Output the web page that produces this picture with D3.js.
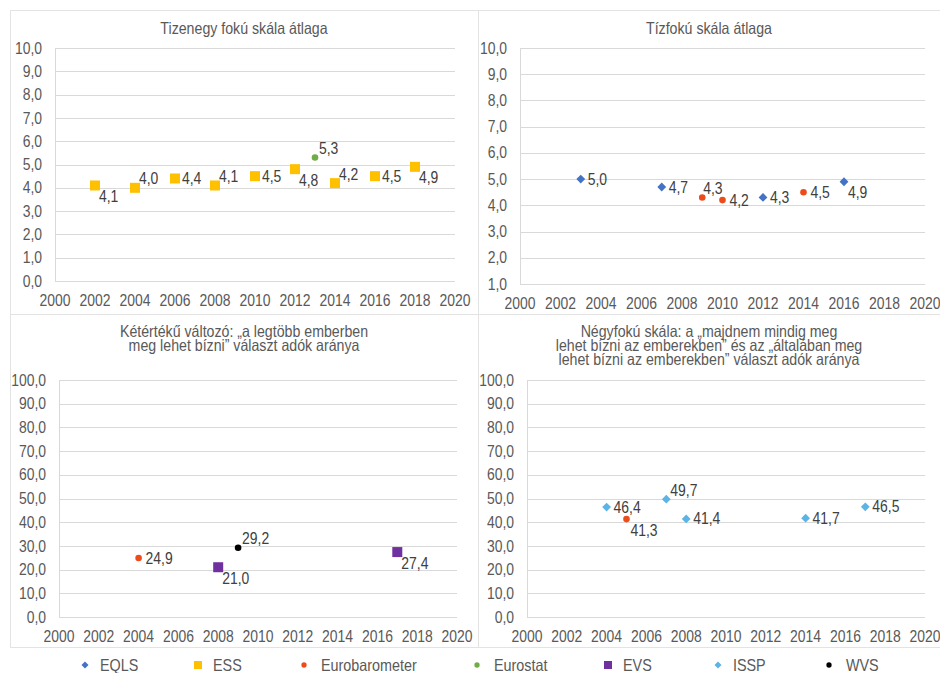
<!DOCTYPE html>
<html>
<head>
<meta charset="utf-8">
<script src="https://cdn.jsdelivr.net/npm/d3@7"></script>
<style>
  body { margin: 0; background: #ffffff; }
  svg text { font-family: 'Liberation Sans', Arial, sans-serif; }
</style>
</head>
<body>
<div id="chart"></div>
<script>
// sources (legend order)
var sources = ["EQLS", "ESS", "Eurobarometer", "Eurostat", "EVS", "ISSP", "WVS"];
var sourceColors = ["#4472C4", "#FFC000", "#EE4B1A", "#70AD47", "#7030A0", "#5BB4E5", "#000000"];
var sourceShapes = ["diamond", "square", "circle", "circle", "square", "diamond", "circle"];

var xTicks = [2000, 2002, 2004, 2006, 2008, 2010, 2012, 2014, 2016, 2018, 2020];

// panel 1 - tizenegy foku skala
var essYears = [2002, 2004, 2006, 2008, 2010, 2012, 2014, 2016, 2018];
var essValues = [4.1, 4.0, 4.4, 4.1, 4.5, 4.8, 4.2, 4.5, 4.9];
var eurostatYears = [2013];
var eurostatValues = [5.3];

// panel 2 - tizfoku skala
var eqlsYears = [2003, 2007, 2012, 2016];
var eqlsValues = [5.0, 4.7, 4.3, 4.9];
var eurobar10Years = [2009, 2010, 2014];
var eurobar10Values = [4.3, 4.2, 4.5];

// panel 3 - ketérteku valtozo
var eurobar2Years = [2004];
var eurobar2Values = [24.9];
var evsYears = [2008, 2017];
var evsValues = [21.0, 27.4];
var wvsYears = [2009];
var wvsValues = [29.2];

// panel 4 - negyfoku skala
var isspYears = [2004, 2007, 2008, 2014, 2017];
var isspValues = [46.4, 49.7, 41.4, 41.7, 46.5];
var eurobar4Years = [2005];
var eurobar4Values = [41.3];

// where the data label sits: r = right, ar = above right, br = below right, a = above
var essLabelPos = ["br", "ar", "r", "ar", "r", "br", "ar", "r", "br"];
var eurostatLabelPos = ["ar"];
var eqlsLabelPos = ["r", "r", "r", "br"];
var eurobar10LabelPos = ["a", "r", "r"];
var eurobar2LabelPos = ["r"];
var evsLabelPos = ["br", "br"];
var wvsLabelPos = ["ar"];
var isspLabelPos = ["r", "ar", "r", "r", "r"];
var eurobar4LabelPos = ["br"];

var locale = d3.formatLocale({decimal: ",", thousands: " ", grouping: [3], currency: ["", ""]});
var fmt = locale.format(".1f");

var w = 940, h = 673;
var squeeze = 0.87;   // no narrow font installed, so squeeze the text horizontally

var svg = d3.select("#chart").append("svg")
    .attr("width", w)
    .attr("height", h);

function at(x, y) {
    return "translate(" + x + "," + y + ") scale(" + squeeze + ",1)";
}

function series(name, years, values, pos) {
    var i = sources.indexOf(name);
    return {
        color: sourceColors[i],
        shape: sourceShapes[i],
        points: years.map(function (y, j) { return {year: y, value: values[j], pos: pos[j]}; })
    };
}

var panels = [
    {
        frame: [10, 10, 478, 314],
        plot: {left: 55, right: 455, top: 48, bottom: 281},
        yDomain: [0, 10], yTicks: d3.range(0, 10.01, 1),
        title: ["Tizenegy fokú skála átlaga"], titleY: 28,
        series: [series("ESS", essYears, essValues, essLabelPos),
                 series("Eurostat", eurostatYears, eurostatValues, eurostatLabelPos)]
    },
    {
        frame: [478, 10, 940, 314],
        plot: {left: 520, right: 925, top: 48, bottom: 284},
        yDomain: [1, 10], yTicks: d3.range(1, 10.01, 1),
        title: ["Tízfokú skála átlaga"], titleY: 28,
        series: [series("EQLS", eqlsYears, eqlsValues, eqlsLabelPos),
                 series("Eurobarometer", eurobar10Years, eurobar10Values, eurobar10LabelPos)]
    },
    {
        frame: [10, 314, 478, 647],
        plot: {left: 59, right: 457, top: 380, bottom: 617},
        yDomain: [0, 100], yTicks: d3.range(0, 100.1, 10),
        title: ["Kétértékű változó: „a legtöbb emberben", "meg lehet bízni” választ adók aránya"], titleY: 331,
        series: [series("Eurobarometer", eurobar2Years, eurobar2Values, eurobar2LabelPos),
                 series("EVS", evsYears, evsValues, evsLabelPos),
                 series("WVS", wvsYears, wvsValues, wvsLabelPos)]
    },
    {
        frame: [478, 314, 940, 647],
        plot: {left: 527, right: 925, top: 380, bottom: 617},
        yDomain: [0, 100], yTicks: d3.range(0, 100.1, 10),
        title: ["Négyfokú skála: a „majdnem mindig meg", "lehet bízni az emberekben” és az „általában meg", "lehet bízni az emberekben” választ adók aránya"], titleY: 331,
        series: [series("ISSP", isspYears, isspValues, isspLabelPos),
                 series("Eurobarometer", eurobar4Years, eurobar4Values, eurobar4LabelPos)]
    }
];

function drawMarker(g, shape, color, s) {
    if (shape === "circle") {
        g.append("circle").attr("r", s * 0.33).attr("fill", color);
    } else if (shape === "square") {
        g.append("rect").attr("x", -s / 2).attr("y", -s / 2).attr("width", s).attr("height", s).attr("fill", color);
    } else {
        var r = s * 0.44;
        g.append("path").attr("d", "M0," + (-r) + "L" + r + ",0L0," + r + "L" + (-r) + ",0Z").attr("fill", color);
    }
}

panels.forEach(function (p) {
    var f = p.frame;
    var cx = (f[0] + f[2]) / 2;
    svg.append("rect")
        .attr("x", f[0] + 0.5).attr("y", f[1] + 0.5)
        .attr("width", f[2] - f[0]).attr("height", f[3] - f[1])
        .attr("fill", "#ffffff")
        .attr("stroke", "#e3e3e3");

    var x = d3.scaleLinear().domain([2000, 2020]).range([p.plot.left, p.plot.right]);
    var y = d3.scaleLinear().domain(p.yDomain).range([p.plot.bottom, p.plot.top]);

    // title, one line per row
    svg.append("g")
        .selectAll("g")
        .data(p.title)
        .enter()
        .append("g")
        .attr("transform", function (d, i) { return at(cx, p.titleY + i * 14); })
        .append("text")
        .attr("dy", "0.35em")
        .attr("text-anchor", "middle")
        .attr("font-size", 16.3)
        .attr("fill", "#595959")
        .text(function (d) { return d; });

    // gridlines
    svg.append("g")
        .selectAll("line")
        .data(p.yTicks)
        .enter()
        .append("line")
        .attr("x1", p.plot.left).attr("x2", p.plot.right)
        .attr("y1", function (d) { return Math.round(y(d)) + 0.5; })
        .attr("y2", function (d) { return Math.round(y(d)) + 0.5; })
        .style("stroke", "#d9d9d9")
        .style("stroke-width", 1);

    // y axis line
    svg.append("line")
        .attr("x1", p.plot.left + 0.5).attr("x2", p.plot.left + 0.5)
        .attr("y1", p.plot.top).attr("y2", p.plot.bottom)
        .style("stroke", "#d9d9d9");

    // y tick labels
    svg.append("g")
        .selectAll("g")
        .data(p.yTicks)
        .enter()
        .append("g")
        .attr("transform", function (d) { return at(p.plot.left - 13, y(d)); })
        .append("text")
        .attr("dy", "0.35em")
        .attr("text-anchor", "end")
        .attr("font-size", 16)
        .attr("fill", "#595959")
        .text(function (d) { return fmt(d); });

    // x tick labels
    svg.append("g")
        .selectAll("g")
        .data(xTicks)
        .enter()
        .append("g")
        .attr("transform", function (d) { return at(x(d), p.plot.bottom + 19); })
        .append("text")
        .attr("dy", "0.35em")
        .attr("text-anchor", "middle")
        .attr("font-size", 16)
        .attr("fill", "#595959")
        .text(function (d) { return d; });

    // points and labels
    p.series.forEach(function (s) {
        var pts = svg.append("g")
            .selectAll("g")
            .data(s.points)
            .enter()
            .append("g")
            .attr("transform", function (d) { return "translate(" + x(d.year) + "," + y(d.value) + ")"; });

        pts.each(function () { drawMarker(d3.select(this), s.shape, s.color, 10); });

        pts.append("g")
            .attr("transform", function (d) {
                var dx = d.pos === "a" ? 1 : d.pos === "r" ? 7 : 4;
                var dy = d.pos === "r" ? 0 : d.pos === "br" ? 11 : -9;
                return at(dx, dy);
            })
            .append("text")
            .attr("dy", "0.35em")
            .attr("font-size", 16)
            .attr("fill", "#404040")
            .text(function (d) { return fmt(d.value); });
    });
});

// legend
var legendX = [85, 198, 304, 477, 608, 718, 829];
var legendY = 665;
var legend = svg.append("g")
    .selectAll("g")
    .data(sources)
    .enter()
    .append("g")
    .attr("transform", function (d, i) { return "translate(" + legendX[i] + "," + legendY + ")"; });

legend.each(function (d, i) { drawMarker(d3.select(this), sourceShapes[i], sourceColors[i], 8); });

legend.append("g")
    .attr("transform", function (d, i) { return at(sourceShapes[i] === "circle" ? 17 : 15, 0); })
    .append("text")
    .attr("dy", "0.35em")
    .attr("font-size", 16.5)
    .attr("fill", "#595959")
    .text(function (d) { return d; });
</script>
</body>
</html>
